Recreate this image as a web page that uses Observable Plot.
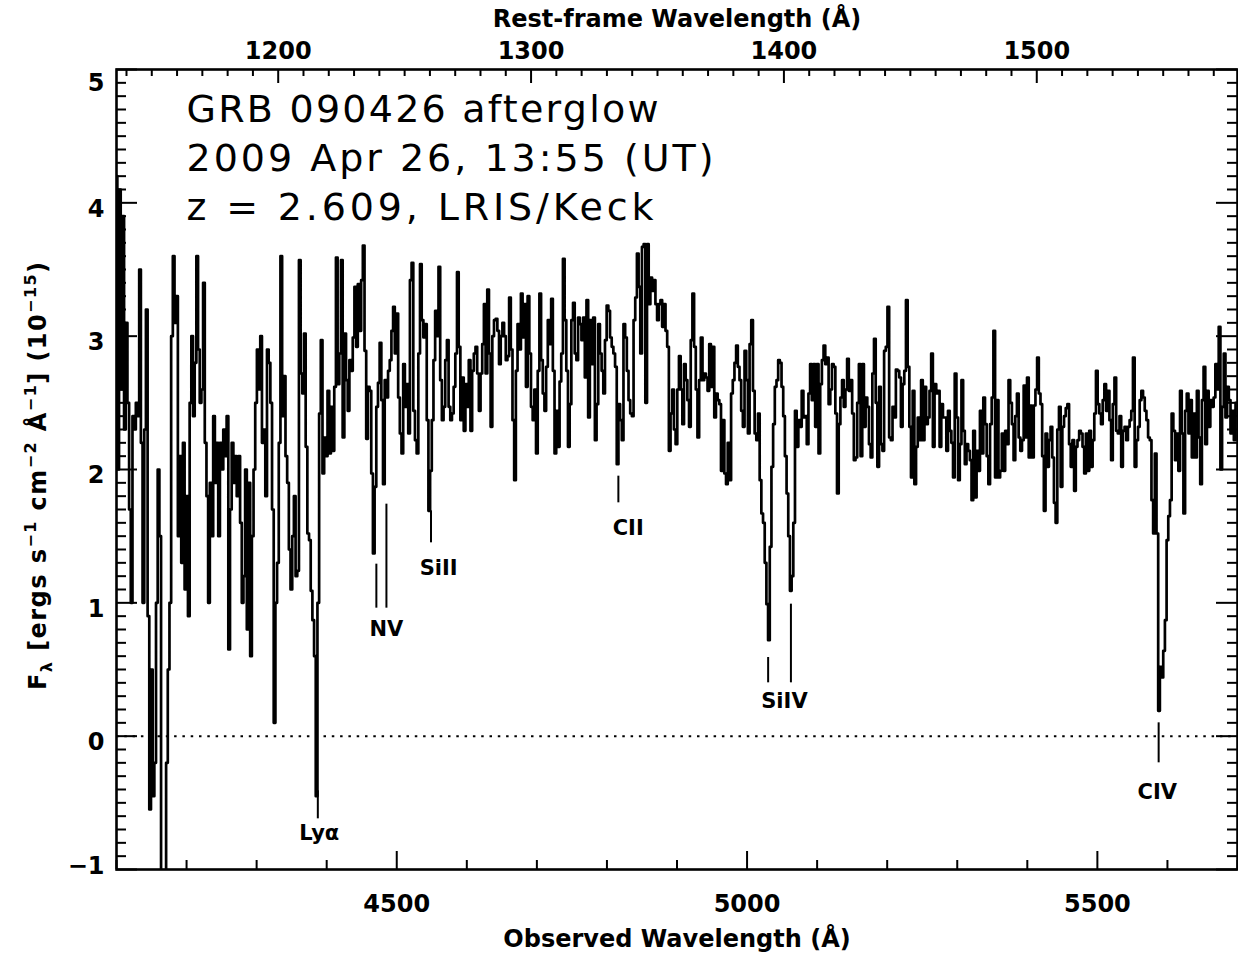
<!DOCTYPE html>
<html>
<head>
<meta charset="utf-8">
<script src="https://cdn.jsdelivr.net/npm/d3@7"></script>
<script src="https://cdn.jsdelivr.net/npm/@observablehq/plot@0.6"></script>
<style>
  html, body { margin: 0; padding: 0; background: #fff; }
  #chart svg { display: block; }
</style>
</head>
<body>
<div id="chart"></div>
<script>
// ---------------- data ----------------
const redshift = 2.609;
const waveStart = 4100;   // observed wavelength of first bin (Å)
const waveStep = 2.4;     // bin width (Å)
const flux = [
  // 4100 – 4362 Å (Lyα forest)
  4.2, 2.0, 4.1, 2.6, 3.9, 2.3, 3.1, 2.5, 1.7, 1.0,
  2.4, 2.3, 2.5, 2.4, 3.5, 2.2, 1.0, 2.3, 3.2, 0.9,
  -0.55, 0.5, -0.45, -0.2, 1.0, 2.0, 1.5, -1.5, -1.5, -1.5,
  -0.2, 0.5, 1.0, 3.0, 3.6, 3.1, 3.3, 1.5, 2.1, 1.3,
  2.2, 1.1, 1.8, 0.9, 2.5, 3.0, 2.4, 2.8, 3.6, 2.9,
  2.5, 2.6, 3.4, 2.2, 1.8, 1.0, 1.9, 1.5, 2.4, 1.9,
  2.2, 1.5, 2.2, 2.0, 2.3, 2.1, 2.4, 0.65, 1.7, 2.2,
  1.9, 2.1, 1.8, 2.1, 1.6, 1.0, 1.2, 2.0, 0.8, 1.9,
  0.6, 1.5, 2.0, 2.5, 2.9, 2.6, 3.0, 2.2, 2.3, 1.8,
  2.9, 2.8, 2.5, 1.7, 0.1, 1.0, 1.3, 2.2, 3.6, 2.4,
  2.7, 2.1, 1.9, 1.4, 1.1, 1.5, 1.8, 1.2, 1.24, 3.57,
  // 4364 – 4618 Å
  2.72, 2.57, 3.02, 2.17, 1.52, 1.47, 1.09, 0.87, 0.6, -0.45,
  1.0, 2.42, 2.97, 1.97, 2.24, 2.1, 2.59, 2.12, 2.47, 2.14,
  2.62, 3.59, 2.64, 2.87, 3.57, 2.24, 3.02, 2.67, 2.44, 2.82,
  2.74, 2.99, 3.37, 2.92, 3.39, 3.04, 3.42, 3.68, 2.89, 2.23,
  2.62, 2.59, 1.97, 1.37, 1.87, 2.47, 2.65, 2.95, 2.52, 1.89,
  2.67, 2.54, 2.74, 2.82, 3.04, 3.22, 2.87, 3.17, 2.54, 2.27,
  2.12, 2.79, 2.47, 2.64, 2.27, 3.42, 3.55, 2.44, 2.22, 2.12,
  2.87, 3.54, 3.12, 2.99, 3.09, 2.37, 1.69, 1.99, 2.37, 2.82,
  3.19, 3.0, 3.52, 2.67, 2.37, 2.47, 2.82, 2.97, 2.47, 2.37,
  2.42, 2.62, 2.87, 3.48, 2.92, 2.37, 2.69, 2.29, 2.64, 2.47,
  2.82, 2.29, 2.74, 2.87, 2.92, 2.72, 2.44,
  // 4621 – 4890 Å
  2.72, 2.94, 3.24, 2.72, 3.35, 2.87, 2.32, 3.0, 3.12, 3.13,
  3.04, 2.79, 3.0, 3.1, 3.0, 2.82, 2.85, 3.29, 2.9, 2.37,
  1.92, 2.74, 3.09, 2.9, 3.32, 2.99, 3.24, 2.62, 3.30, 2.87,
  2.47, 2.37, 2.6, 2.12, 2.74, 3.32, 2.82, 2.57, 2.44, 2.77,
  3.12, 2.94, 3.28, 2.74, 2.12, 2.44, 2.17, 2.66, 2.87, 3.58,
  3.12, 2.74, 2.17, 2.49, 3.12, 3.25, 2.87, 2.82, 3.14, 3.09,
  2.97, 3.14, 2.69, 3.27, 2.39, 3.12, 2.79, 3.14, 2.22, 2.49,
  3.09, 2.87, 2.74, 2.57, 2.97, 3.23, 3.19, 2.99, 2.92, 2.87,
  2.77, 2.04, 2.49, 2.37, 2.22, 3.09, 2.99, 2.74, 2.52, 2.42,
  2.4, 3.12, 3.29, 3.62, 3.37, 2.87, 3.67, 3.69, 2.50, 3.69,
  3.24, 3.44, 3.34, 3.42, 3.24, 3.12, 3.24, 3.27, 3.07, 3.24,
  3.04, 2.92, 2.14,
  // 4892 – 5154 Å (Si IV)
  2.42, 2.6, 2.3, 2.19, 2.6, 2.85, 2.6, 2.34, 2.79, 2.67,
  2.52, 2.32, 2.97, 3.32, 2.92, 2.6, 2.24, 2.67, 2.99, 2.67,
  2.72, 2.69, 2.59, 2.94, 2.62, 2.92, 2.39, 2.57, 2.52, 2.49,
  1.99, 2.37, 1.97, 1.89, 2.2, 1.92, 2.57, 2.67, 2.8, 2.93,
  2.77, 2.67, 2.44, 2.32, 2.89, 2.67, 2.27, 2.94, 3.12, 2.59,
  2.27, 2.22, 2.42, 1.92, 1.67, 1.6, 1.3, 0.99, 0.72, 1.42,
  2.02, 2.34, 2.62, 2.67, 2.82, 2.8, 2.62, 2.4, 2.1, 1.82,
  1.5, 1.09, 1.2, 1.6, 2.44, 2.17, 2.37, 2.32, 2.59, 2.39,
  2.4, 2.19, 2.57, 2.79, 2.52, 2.79, 2.32, 2.79, 2.12, 2.64,
  2.82, 2.93, 2.79, 2.84, 2.49, 2.6, 2.79, 2.77, 2.42, 1.82,
  2.34, 2.54, 2.67, 2.47, 2.6, 2.83, 2.59, 2.67, 2.42, 2.07,
  // 5156 – 5418 Å
  2.09, 2.5, 2.79, 2.1, 2.79, 2.32, 2.54, 2.47, 2.19, 2.09,
  2.72, 2.98, 2.5, 2.02, 2.62, 2.19, 2.14, 2.89, 2.92, 3.22,
  2.24, 2.22, 2.47, 2.39, 2.75, 2.74, 2.69, 2.32, 2.64, 2.74,
  3.27, 2.77, 2.32, 1.94, 2.59, 1.89, 2.17, 2.39, 2.22, 2.67,
  2.22, 2.62, 2.34, 2.39, 2.59, 2.87, 2.17, 2.64, 2.57, 2.59,
  2.17, 2.49, 2.39, 2.39, 2.14, 2.44, 2.29, 2.2, 1.94, 2.72,
  2.39, 1.92, 2.19, 2.67, 2.29, 2.04, 2.19, 2.14, 2.07, 1.77,
  2.29, 1.79, 2.14, 1.99, 2.44, 2.12, 2.54, 2.34, 2.1, 1.89,
  2.34, 2.54, 3.04, 1.94, 2.52, 1.94, 1.99, 2.27, 1.99, 2.29,
  2.19, 2.67, 2.5, 2.34, 2.07, 2.4, 2.57, 2.24, 2.14, 2.22,
  2.63, 2.24, 2.69, 2.09, 2.48, 2.09, 2.48, 2.6, 2.84, 2.57,
  // 5420 – 5698 Å (C IV)
  2.49, 2.1, 1.69, 2.27, 2.02, 2.22, 2.32, 2.09, 1.75, 1.6,
  2.3, 2.47, 1.87, 2.32, 2.40, 2.46, 2.49, 2.19, 2.02, 2.22,
  1.84, 2.17, 2.22, 2.29, 2.27, 2.17, 1.97, 2.27, 1.99, 2.29,
  2.02, 2.22, 2.42, 2.74, 2.49, 2.42, 2.34, 2.52, 2.64, 2.44,
  2.59, 2.37, 2.07, 2.49, 2.69, 2.29, 2.27, 2.4, 2.02, 2.29,
  2.32, 2.22, 2.32, 2.37, 2.44, 2.84, 2.02, 2.22, 2.32, 2.52,
  2.59, 2.54, 2.44, 2.37, 2.24, 2.22, 1.77, 1.52, 2.12, 1.52,
  0.19, 0.52, 0.44, 0.64, 0.87, 1.47, 1.65, 1.77, 2.42, 2.29,
  2.07, 2.27, 1.99, 2.59, 2.27, 1.67, 2.44, 2.57, 2.27, 2.52,
  2.09, 2.42, 2.09, 2.59, 2.24, 1.89, 2.52, 2.77, 2.19, 2.59,
  2.32, 2.52, 2.47, 2.54, 2.79, 2.6, 3.07, 2.0, 2.47, 2.87,
  2.39, 2.62, 2.52, 2.27, 2.44, 2.22, 2.5
];

const obsTicks = [4500, 5000, 5500];
const restTicks = [1200, 1300, 1400, 1500];
const fluxTicks = [-1, 0, 1, 2, 3, 4, 5];

const titleLines = ["GRB 090426 afterglow", "2009 Apr 26, 13:55 (UT)", "z = 2.609, LRIS/Keck"];
const xTitle = "Observed Wavelength (Å)";
const topTitle = "Rest-frame Wavelength (Å)";

// absorption-line identifications
const lineNames   = ["Lyα", "NV", "SiII", "CII", "SiIV", "CIV"];
const lineRest    = [[1215.67], [1238.82, 1242.80], [1260.42], [1334.53], [1393.76, 1402.77], [1548.20]];
const markTop     = [[-0.41], [1.29, 1.74], [1.69], [1.95], [0.59, 0.99], [0.10]];
const markBottom  = [-0.62, 0.96, 1.45, 1.75, 0.40, -0.20];
const labelFlux   = [-0.73, 0.80, 1.26, 1.56, 0.26, -0.42];
const labelShift  = [2, 7, 11, 14, 7, -2];   // Å offset of label centre

// ---------------- build ----------------
const spectrum = flux.map((f, i) => ({wave: waveStart + i * waveStep, flux: f}));
const idMarks = lineRest.flatMap((rs, k) => rs.map((r, j) => ({obs: r * (1 + redshift), top: markTop[k][j], bottom: markBottom[k]})));
const idLabels = lineNames.map((name, k) => ({
  name,
  obs: d3.mean(lineRest[k]) * (1 + redshift) + labelShift[k],
  flux: labelFlux[k]
}));

const W = 1238, H = 957;
const mL = 116, mR = 1, mT = 69, mB = 88;
const innerW = W - mL - mR, innerH = H - mT - mB;

const obsMinor = d3.range(4100, 5701, 100).filter(v => v % 500 !== 0);
const restMinor = d3.range(1140, 1580, 10).filter(v => v % 100 !== 0);
const fluxMinor = d3.range(-10, 51).filter(v => v % 10 !== 0).map(v => v / 10);

const FONT = "DejaVu Sans, sans-serif";
const lab = {fill: "black", fontFamily: FONT, fontWeight: "bold", lineAnchor: "middle"};

const chart = Plot.plot({
  width: W, height: H,
  marginLeft: mL, marginRight: mR, marginTop: mT, marginBottom: mB,
  x: {domain: [4100, 5700], axis: null},
  y: {domain: [-1, 5], axis: null},
  style: {fontFamily: FONT, background: "white", color: "black", overflow: "visible"},
  marks: [
    // zero level
    Plot.ruleY([0], {stroke: "black", strokeWidth: 2, strokeDasharray: "2.5,5.8"}),
    // spectrum
    Plot.line(spectrum, {x: "wave", y: "flux", curve: "step", stroke: "black", strokeWidth: 2.7, clip: true}),
    // line identifications
    Plot.ruleX(idMarks, {x: "obs", y1: "top", y2: "bottom", stroke: "black", strokeWidth: 2}),
    Plot.text(idLabels, {x: "obs", y: "flux", text: "name", fontSize: 21, ...lab}),
    // inward ticks: bottom
    Plot.ruleX(obsMinor, {x: d => d, insetTop: innerH - 9, stroke: "black", strokeWidth: 2}),
    Plot.ruleX(obsTicks, {x: d => d, insetTop: innerH - 18, stroke: "black", strokeWidth: 2}),
    // top (rest frame)
    Plot.ruleX(restMinor, {x: d => d * (1 + redshift), insetBottom: innerH - 7, stroke: "black", strokeWidth: 2}),
    Plot.ruleX(restTicks, {x: d => d * (1 + redshift), insetBottom: innerH - 14, stroke: "black", strokeWidth: 2}),
    // left
    Plot.ruleY(fluxMinor, {y: d => d, insetRight: innerW - 10, stroke: "black", strokeWidth: 2}),
    Plot.ruleY(fluxTicks, {y: d => d, insetRight: innerW - 21, stroke: "black", strokeWidth: 2}),
    // right
    Plot.ruleY(fluxMinor, {y: d => d, insetLeft: innerW - 10, stroke: "black", strokeWidth: 2}),
    Plot.ruleY(fluxTicks, {y: d => d, insetLeft: innerW - 21, stroke: "black", strokeWidth: 2}),
    Plot.frame({stroke: "black", strokeWidth: 2.6}),
    // tick labels
    Plot.text(obsTicks, {x: d => d, text: d => String(d), frameAnchor: "bottom", dy: 35, fontSize: 24, ...lab}),
    Plot.text(restTicks, {x: d => d * (1 + redshift), text: d => String(d), frameAnchor: "top", dy: -18, fontSize: 24, ...lab}),
    Plot.text(fluxTicks.filter(v => v > -1 && v < 5), {y: d => d, text: d => String(d), frameAnchor: "left", textAnchor: "end", dx: -12, dy: 6, fontSize: 24, ...lab}),
    Plot.text(fluxTicks.filter(v => v === 5), {y: d => d, text: d => String(d), frameAnchor: "left", textAnchor: "end", dx: -12, dy: 14, fontSize: 24, ...lab}),
    Plot.text(fluxTicks.filter(v => v === -1), {y: d => d, text: d => "\u2212" + Math.abs(d), frameAnchor: "left", textAnchor: "end", dx: -12, dy: -3, fontSize: 24, ...lab}),
    // axis titles
    Plot.text([xTitle], {frameAnchor: "bottom", dy: 70, fontSize: 24, ...lab}),
    Plot.text([topTitle], {frameAnchor: "top", dy: -50, fontSize: 24, ...lab}),
    // in-plot title block
    ...titleLines.map((t, i) => Plot.text([t], {frameAnchor: "top-left", textAnchor: "start", lineAnchor: "middle", dx: 70, dy: 40 + i * 49, fontSize: 38, fill: "black", fontFamily: FONT}))
  ]
});

// stretch title lines to the reference widths
const titleWidths = [472, 527, 467];
d3.select(chart).selectAll('g[font-size="38"] text').each(function(d, i) {
  d3.select(this).attr("textLength", titleWidths[i]).attr("lengthAdjust", "spacing");
});

// y-axis title with sub/superscripts
const yt = d3.select(chart).append("text")
  .attr("transform", `translate(46, ${mT + innerH / 2 + 7}) rotate(-90)`)
  .attr("text-anchor", "middle")
  .attr("font-family", FONT).attr("font-weight", "bold").attr("font-size", 24).attr("fill", "black")
  .attr("textLength", 428).attr("lengthAdjust", "spacing");
const parts = [
  ["F", 0], ["λ", -1], [" [ergs s", 0], ["−1", 1], [" cm", 0], ["−2", 1], [" Å", 0], ["−1", 1], ["] (10", 0], ["−15", 1], [")", 0]
];
let level = 0;
parts.forEach(([txt, lv]) => {
  const off = v => v === 1 ? -10 : v === -1 ? 6 : 0;
  yt.append("tspan").attr("dy", off(lv) - off(level)).attr("font-size", lv === 0 ? 24 : 16).text(txt);
  level = lv;
});

document.getElementById("chart").appendChild(chart);
</script>
</body>
</html>
